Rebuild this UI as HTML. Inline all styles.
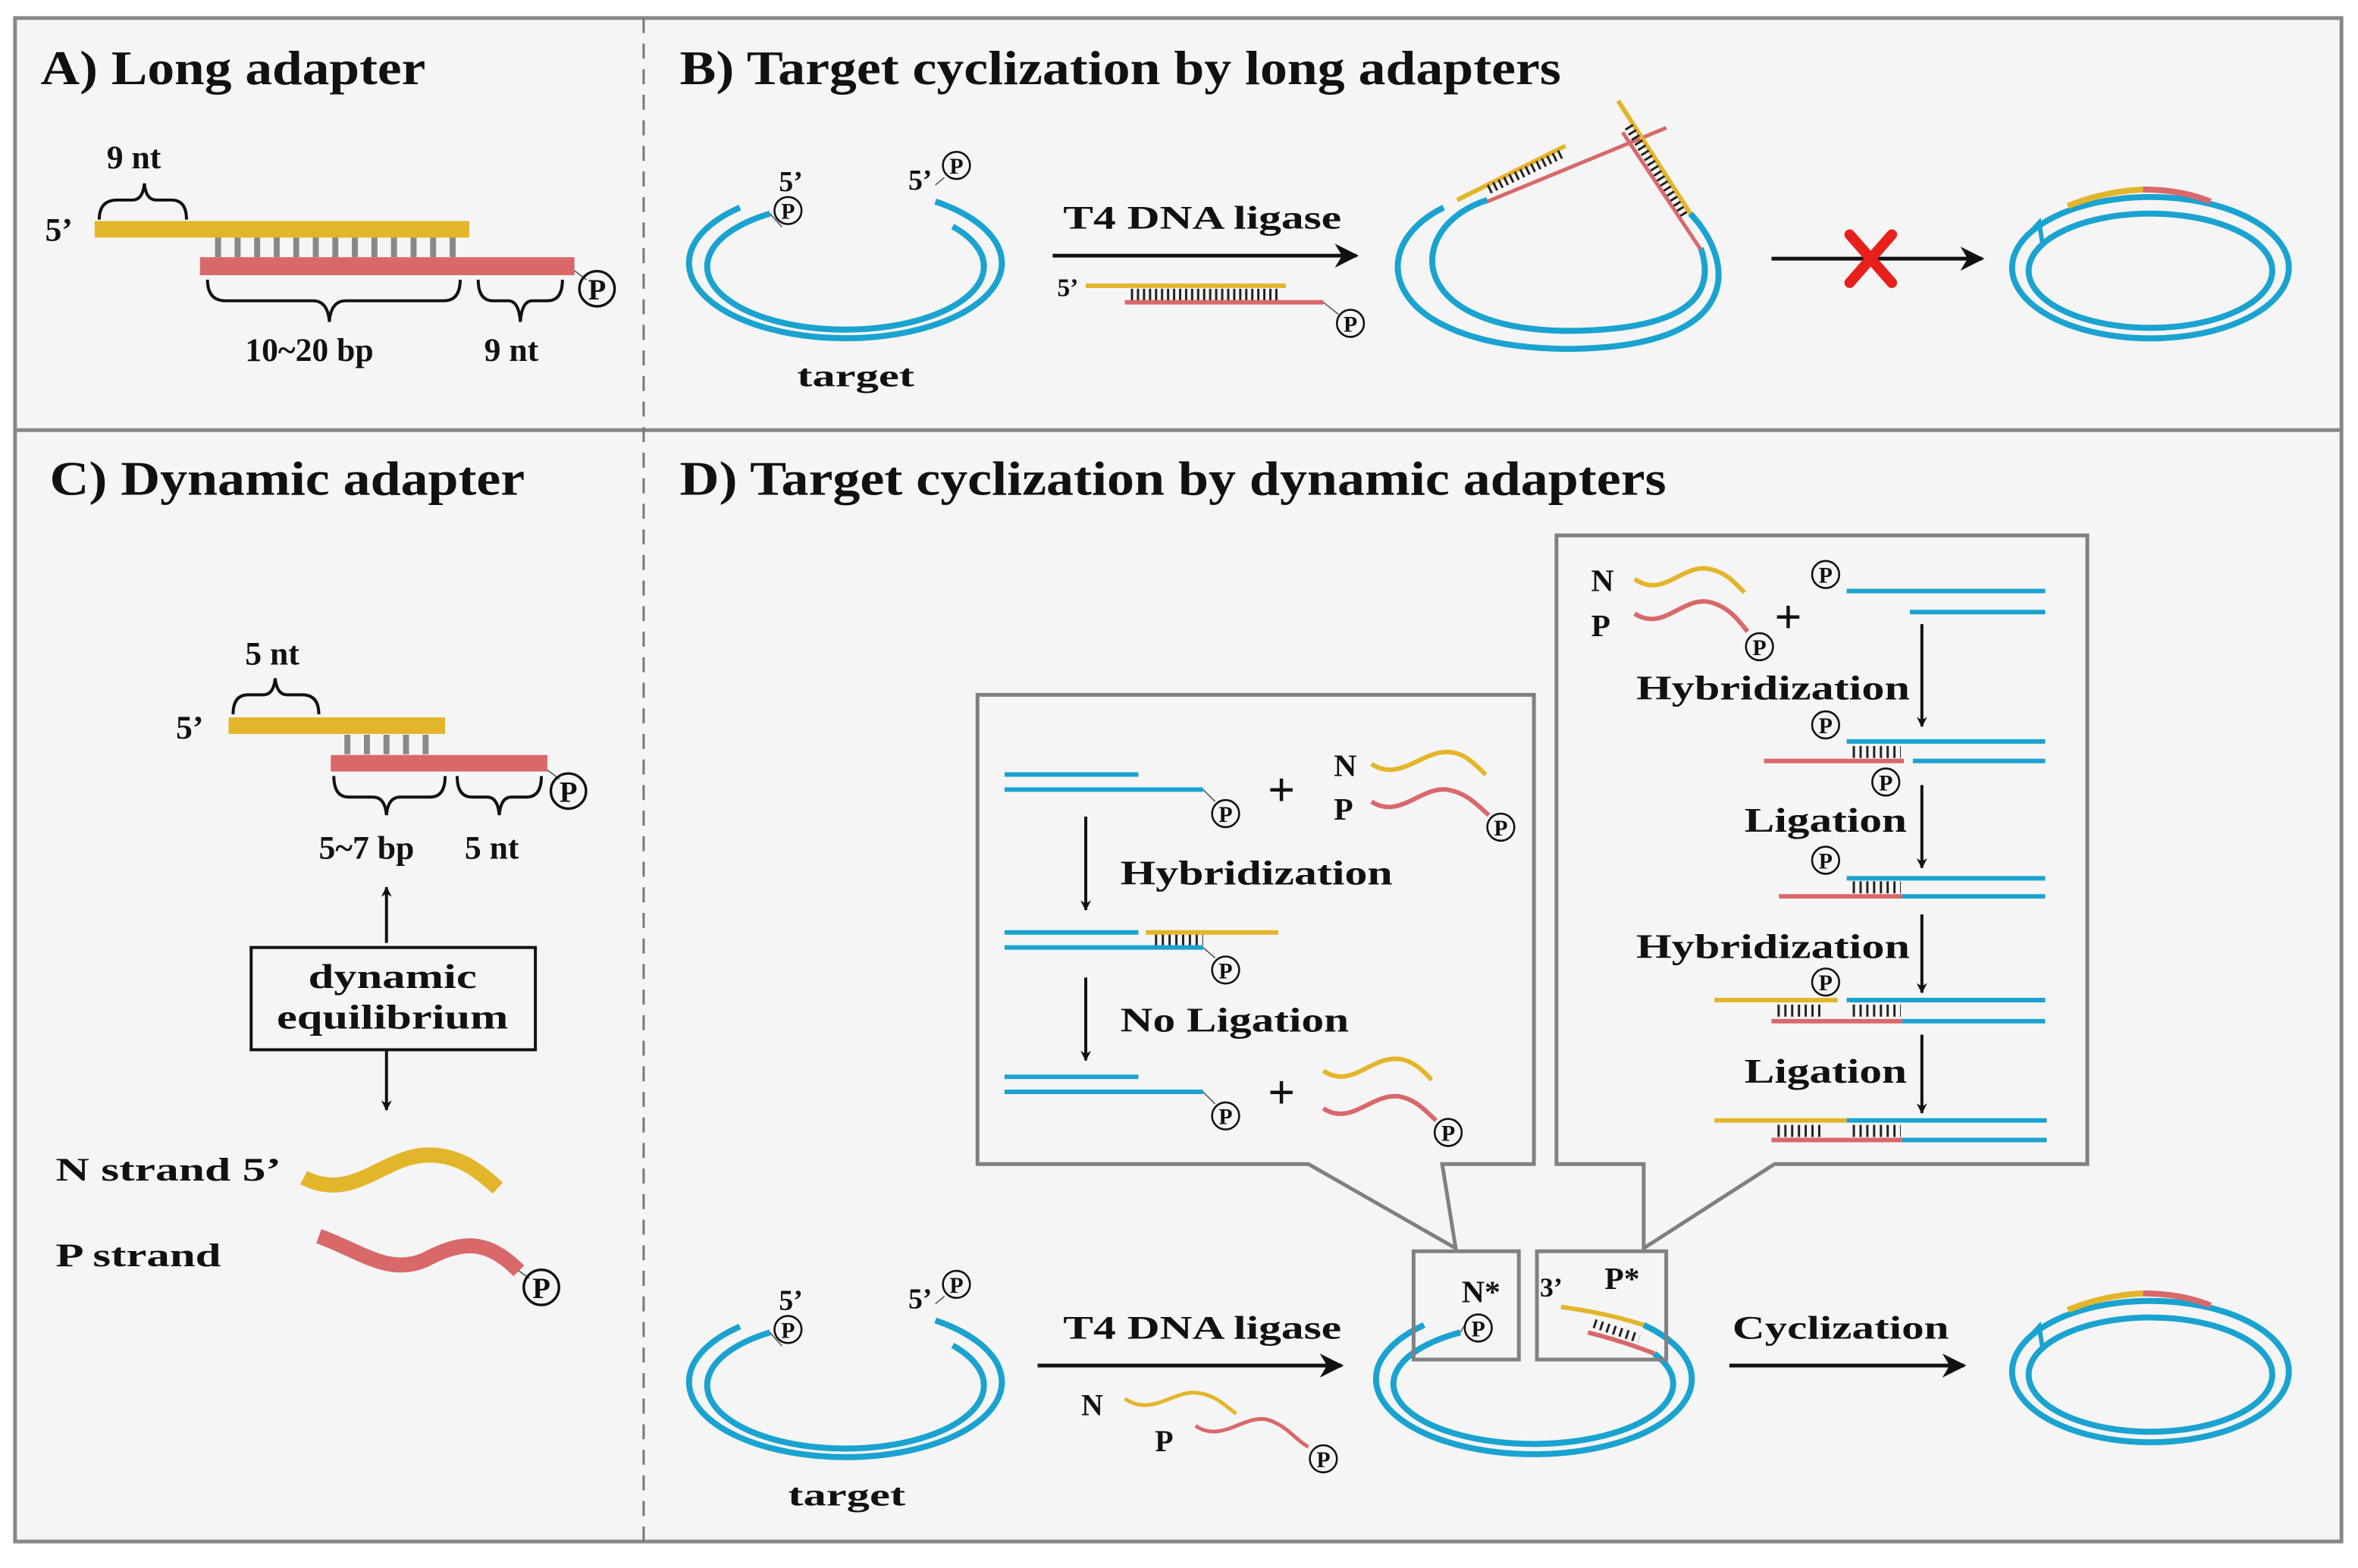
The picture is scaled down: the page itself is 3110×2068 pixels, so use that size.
<!DOCTYPE html>
<html><head><meta charset="utf-8"><style>
html,body{margin:0;padding:0;background:#fff}
svg{display:block}
text{font-family:"Liberation Serif",serif;font-weight:bold;fill:#111}
</style></head><body>
<svg width="3110" height="2068" viewBox="0 0 1568 1042.6" preserveAspectRatio="none" xmlns="http://www.w3.org/2000/svg">
<defs>
<marker id="ah" viewBox="0 0 10 10" refX="9" refY="5" markerWidth="7" markerHeight="7" markerUnits="userSpaceOnUse" orient="auto"><path d="M0,0 L10,5 L0,10 L3,5 z" fill="#111"/></marker>
<marker id="ahb" viewBox="0 0 10 10" refX="9" refY="5" markerWidth="16" markerHeight="16" markerUnits="userSpaceOnUse" orient="auto"><path d="M0,0 L10,5 L0,10 L3,5 z" fill="#111"/></marker>
<g id="pc"><circle cx="0" cy="0" r="9" fill="none" stroke="#111" stroke-width="1.3"/><text x="0" y="5.5" font-size="15" text-anchor="middle">P</text></g>
<g id="tgt">
<path d="M492,882 A104,50 0 1 0 622,878" fill="none" stroke="#1aa3d0" stroke-width="4"/>
<path d="M512,886 A92,42 0 1 0 633.5,894.6" fill="none" stroke="#1aa3d0" stroke-width="4"/>
<line x1="512" y1="886" x2="520" y2="895" stroke="#555" stroke-width="0.8"/>
<use href="#pc" x="524" y="884"/>
<text x="518" y="871" font-size="19">5’</text>
<text x="604" y="870" font-size="19">5’</text>
<line x1="622" y1="867" x2="628" y2="862" stroke="#555" stroke-width="0.8"/>
<use href="#pc" x="636" y="854"/>
</g>
<g id="ring">
<ellipse cx="1430" cy="912" rx="92" ry="47" fill="none" stroke="#1aa3d0" stroke-width="4"/>
<ellipse cx="1430" cy="914" rx="81" ry="38" fill="none" stroke="#1aa3d0" stroke-width="4"/>
<path d="M1346,893 L1356,882 L1358,895" fill="none" stroke="#1aa3d0" stroke-width="3"/>
<path d="M1375,871 Q1400,861 1425,860" fill="none" stroke="#e3b52a" stroke-width="4"/>
<path d="M1425,860 Q1450,860 1470,868" fill="none" stroke="#d9686a" stroke-width="4"/>
</g>
</defs>
<rect x="0" y="0" width="1568" height="1042.6" fill="#fff"/>
<rect x="10" y="12" width="1547" height="1013" fill="#f5f5f5" stroke="#888" stroke-width="2.5"/>
<line x1="10" y1="286" x2="1557" y2="286" stroke="#888" stroke-width="2.5"/>
<line x1="428" y1="12" x2="428" y2="1025" stroke="#777" stroke-width="1.5" stroke-dasharray="10,7"/>

<text x="27" y="56" font-size="32" textLength="256" lengthAdjust="spacingAndGlyphs">A) Long adapter</text>
<text x="452" y="56" font-size="32" textLength="586" lengthAdjust="spacingAndGlyphs">B) Target cyclization by long adapters</text>
<text x="33" y="329" font-size="32" textLength="316" lengthAdjust="spacingAndGlyphs">C) Dynamic adapter</text>
<text x="452" y="329" font-size="32" textLength="656" lengthAdjust="spacingAndGlyphs">D) Target cyclization by dynamic adapters</text>

<!-- Panel A -->
<text x="71" y="112" font-size="22">9 nt</text>
<path d="M66,146 Q66,133 78,133 L88,133 Q95,133 96,122 Q97,133 104,133 L114,133 Q124,133 124,146" fill="none" stroke="#111" stroke-width="2"/>
<text x="30" y="160" font-size="22">5’</text>
<rect x="63" y="147" width="249" height="11" fill="#e3b52a"/>
<line x1="143" y1="164.5" x2="310" y2="164.5" stroke="#888" stroke-width="13" stroke-dasharray="4,9"/>
<rect x="133" y="171" width="249" height="12" fill="#d9686a"/>
<line x1="382" y1="180" x2="390" y2="186" stroke="#555" stroke-width="0.8"/>
<g transform="translate(397,192) scale(1.3)"><use href="#pc"/></g>
<path d="M138,186 Q138,200 150,200 L208,200 Q218,200 219,214 Q220,200 230,200 L295,200 Q306,200 306,186" fill="none" stroke="#111" stroke-width="2"/>
<path d="M318,186 Q318,200 328,200 L338,200 Q345,200 346,214 Q347,200 354,200 L364,200 Q374,200 374,186" fill="none" stroke="#111" stroke-width="2"/>
<text x="163" y="240" font-size="22">10~20 bp</text>
<text x="322" y="240" font-size="22">9 nt</text>

<!-- Panel B -->
<g transform="translate(0,-744)"><use href="#tgt"/></g>
<text x="530" y="257" font-size="21" textLength="78" lengthAdjust="spacingAndGlyphs">target</text>
<line x1="700" y1="170" x2="902" y2="170" stroke="#111" stroke-width="2.5" marker-end="url(#ahb)"/>
<text x="707" y="152" font-size="22" textLength="185" lengthAdjust="spacingAndGlyphs">T4 DNA ligase</text>
<text x="703" y="197" font-size="17">5’</text>
<line x1="722" y1="190" x2="855" y2="190" stroke="#e3b52a" stroke-width="3"/>
<line x1="752" y1="196" x2="852" y2="196" stroke="#222" stroke-width="8" stroke-dasharray="1.5,2.5"/>
<line x1="748" y1="201" x2="880" y2="201" stroke="#d9686a" stroke-width="3"/>
<line x1="880" y1="201" x2="890" y2="209" stroke="#555" stroke-width="0.8"/>
<use href="#pc" x="898" y="215"/>
<path d="M960,138 C905,165 920,230 1040,232 C1160,232 1155,175 1124,142" fill="none" stroke="#1aa3d0" stroke-width="4"/>
<path d="M989,133 C935,150 932,218 1040,220 C1130,220 1140,192 1131,165" fill="none" stroke="#1aa3d0" stroke-width="4"/>
<line x1="969" y1="133" x2="1041" y2="97" stroke="#e3b52a" stroke-width="3"/>
<line x1="990" y1="126" x2="1039" y2="102" stroke="#222" stroke-width="6" stroke-dasharray="1.5,2.5"/>
<line x1="989" y1="134" x2="1108" y2="85" stroke="#d9686a" stroke-width="2.5"/>
<line x1="1076" y1="67" x2="1124" y2="142" stroke="#e3b52a" stroke-width="3"/>
<line x1="1083" y1="84" x2="1120" y2="144" stroke="#222" stroke-width="6" stroke-dasharray="1.5,2.5"/>
<line x1="1079" y1="88" x2="1131" y2="166" stroke="#d9686a" stroke-width="2.5"/>
<line x1="1178" y1="172" x2="1318" y2="172" stroke="#111" stroke-width="2.5" marker-end="url(#ahb)"/>
<path d="M1230,156 L1258,188 M1258,156 L1230,188" stroke="#e8201c" stroke-width="7" stroke-linecap="round"/>
<g transform="translate(0,-734)"><use href="#ring"/></g>

<!-- Panel C -->
<text x="163" y="442" font-size="22">5 nt</text>
<path d="M155,475 Q155,462 165,462 L175,462 Q182,462 183,451 Q184,462 191,462 L201,462 Q212,462 212,475" fill="none" stroke="#111" stroke-width="2"/>
<text x="117" y="491" font-size="22">5’</text>
<rect x="152" y="477" width="144" height="11" fill="#e3b52a"/>
<line x1="229" y1="495" x2="292" y2="495" stroke="#888" stroke-width="13" stroke-dasharray="4,9"/>
<rect x="220" y="502" width="144" height="11" fill="#d9686a"/>
<line x1="364" y1="512" x2="372" y2="518" stroke="#555" stroke-width="0.8"/>
<g transform="translate(378,526) scale(1.3)"><use href="#pc"/></g>
<path d="M222,516 Q222,530 232,530 L248,530 Q256,530 257,542 Q258,530 266,530 L286,530 Q296,530 296,516" fill="none" stroke="#111" stroke-width="2"/>
<path d="M304,516 Q304,530 314,530 L324,530 Q331,530 332,542 Q333,530 340,530 L350,530 Q360,530 360,516" fill="none" stroke="#111" stroke-width="2"/>
<text x="212" y="571" font-size="22">5~7 bp</text>
<text x="309" y="571" font-size="22">5 nt</text>
<line x1="257" y1="627" x2="257" y2="590" stroke="#111" stroke-width="2" marker-end="url(#ah)"/>
<rect x="167" y="630" width="189" height="68" fill="none" stroke="#111" stroke-width="2"/>
<text x="261" y="657" font-size="23" text-anchor="middle" textLength="112" lengthAdjust="spacingAndGlyphs">dynamic</text>
<text x="261" y="684" font-size="23" text-anchor="middle" textLength="154" lengthAdjust="spacingAndGlyphs">equilibrium</text>
<line x1="257" y1="698" x2="257" y2="738" stroke="#111" stroke-width="2" marker-end="url(#ah)"/>
<text x="37" y="785" font-size="22" textLength="150" lengthAdjust="spacingAndGlyphs">N strand 5’</text>
<path d="M202,783 C235,800 255,768 285,768 C305,768 318,778 331,790" fill="none" stroke="#e3b52a" stroke-width="10"/>
<text x="37" y="842" font-size="22" textLength="110" lengthAdjust="spacingAndGlyphs">P strand</text>
<path d="M212,822 C240,832 258,848 282,838 C305,826 322,822 345,845" fill="none" stroke="#d9686a" stroke-width="10"/>
<line x1="345" y1="845" x2="352" y2="850" stroke="#555" stroke-width="0.8"/>
<g transform="translate(360,856) scale(1.3)"><use href="#pc"/></g>

<!-- Panel D bottom row -->
<use href="#tgt"/>
<text x="524" y="1001" font-size="21" textLength="78" lengthAdjust="spacingAndGlyphs">target</text>
<line x1="690" y1="908" x2="892" y2="908" stroke="#111" stroke-width="2.5" marker-end="url(#ahb)"/>
<text x="707" y="890" font-size="22" textLength="185" lengthAdjust="spacingAndGlyphs">T4 DNA ligase</text>
<text x="719" y="941" font-size="20">N</text>
<path d="M748,930 C765,942 780,925 795,926 C808,927 815,935 822,940" fill="none" stroke="#e3b52a" stroke-width="2.5"/>
<text x="768" y="965" font-size="20">P</text>
<path d="M795,948 C812,960 828,940 843,944 C856,948 862,958 870,962" fill="none" stroke="#d9686a" stroke-width="2.5"/>
<use href="#pc" x="880" y="970"/>
<path d="M947,881 A105,50 0 1 0 1093,881" fill="none" stroke="#1aa3d0" stroke-width="4"/>
<path d="M971,886 A93,40 0 1 0 1100,900" fill="none" stroke="#1aa3d0" stroke-width="4"/>
<path d="M1038,869 Q1068,873 1093,881" fill="none" stroke="#e3b52a" stroke-width="3"/>
<line x1="1060" y1="880" x2="1090" y2="890" stroke="#222" stroke-width="6" stroke-dasharray="1.5,3"/>
<path d="M1056,886 Q1080,892 1100,900" fill="none" stroke="#d9686a" stroke-width="3"/>
<line x1="971" y1="886" x2="977" y2="876" stroke="#555" stroke-width="0.8"/>
<use href="#pc" x="983" y="883"/>
<text x="972" y="866" font-size="21">N*</text>
<text x="1024" y="862" font-size="18">3’</text>
<text x="1067" y="857" font-size="21">P*</text>
<rect x="940" y="832" width="70" height="72" fill="none" stroke="#808080" stroke-width="2.5"/>
<rect x="1022" y="832" width="86" height="72" fill="none" stroke="#808080" stroke-width="2.5"/>
<line x1="1150" y1="908" x2="1306" y2="908" stroke="#111" stroke-width="2.5" marker-end="url(#ahb)"/>
<text x="1152" y="890" font-size="22" textLength="144" lengthAdjust="spacingAndGlyphs">Cyclization</text>
<use href="#ring"/>

<!-- Box 1 -->
<path d="M870,774 L650,774 L650,462 L1020,462 L1020,774 L959,774 L968,830 L870,774 Z" fill="#f5f5f5" stroke="#808080" stroke-width="2.5"/>
<g stroke-width="3" fill="none">
<line x1="668" y1="515" x2="757" y2="515" stroke="#1aa3d0"/>
<line x1="668" y1="525" x2="800" y2="525" stroke="#1aa3d0"/>
<line x1="800" y1="525" x2="808" y2="533" stroke="#555" stroke-width="0.8"/>
<path d="M912,508 C930,520 945,500 962,500 C975,500 982,510 988,515" stroke="#e3b52a"/>
<path d="M912,533 C930,545 945,523 962,525 C975,527 982,535 990,542" stroke="#d9686a"/>
<line x1="668" y1="620" x2="757" y2="620" stroke="#1aa3d0"/>
<line x1="762" y1="620" x2="850" y2="620" stroke="#e3b52a"/>
<line x1="668" y1="630" x2="800" y2="630" stroke="#1aa3d0"/>
<line x1="768" y1="625" x2="800" y2="625" stroke="#222" stroke-width="7" stroke-dasharray="1.5,3"/>
<line x1="800" y1="630" x2="808" y2="637" stroke="#555" stroke-width="0.8"/>
<line x1="668" y1="716" x2="757" y2="716" stroke="#1aa3d0"/>
<line x1="668" y1="726" x2="800" y2="726" stroke="#1aa3d0"/>
<line x1="800" y1="726" x2="808" y2="734" stroke="#555" stroke-width="0.8"/>
<path d="M880,712 C898,724 910,704 928,704 C940,704 948,714 952,718" stroke="#e3b52a"/>
<path d="M880,737 C898,749 912,727 930,729 C942,731 948,739 955,745" stroke="#d9686a"/>
</g>
<use href="#pc" x="815" y="541"/>
<use href="#pc" x="998" y="550"/>
<use href="#pc" x="815" y="645"/>
<use href="#pc" x="815" y="742"/>
<use href="#pc" x="963" y="753"/>
<text x="843" y="536" font-size="32" font-weight="normal">+</text>
<text x="843" y="737" font-size="32" font-weight="normal">+</text>
<text x="887" y="516" font-size="21">N</text>
<text x="887" y="545" font-size="21">P</text>
<line x1="722" y1="543" x2="722" y2="605" stroke="#111" stroke-width="2" marker-end="url(#ah)"/>
<text x="745" y="588" font-size="23" textLength="181" lengthAdjust="spacingAndGlyphs">Hybridization</text>
<line x1="722" y1="650" x2="722" y2="705" stroke="#111" stroke-width="2" marker-end="url(#ah)"/>
<text x="745" y="686" font-size="23" textLength="152" lengthAdjust="spacingAndGlyphs">No Ligation</text>

<!-- Box 2 -->
<path d="M1093,774 L1035,774 L1035,356 L1388,356 L1388,774 L1180,774 L1093,830 Z" fill="#f5f5f5" stroke="#808080" stroke-width="2.5"/>
<g stroke-width="3" fill="none">
<path d="M1087,385 C1105,398 1118,376 1135,378 C1148,380 1154,388 1160,394" stroke="#e3b52a"/>
<path d="M1087,408 C1105,420 1118,398 1135,400 C1148,402 1156,412 1162,420" stroke="#d9686a"/>
<line x1="1228" y1="393" x2="1360" y2="393" stroke="#1aa3d0"/>
<line x1="1270" y1="407" x2="1360" y2="407" stroke="#1aa3d0"/>
<line x1="1228" y1="493" x2="1360" y2="493" stroke="#1aa3d0"/>
<line x1="1232" y1="500" x2="1264" y2="500" stroke="#222" stroke-width="8" stroke-dasharray="1.5,3"/>
<line x1="1173" y1="506" x2="1266" y2="506" stroke="#d9686a"/>
<line x1="1272" y1="506" x2="1360" y2="506" stroke="#1aa3d0"/>
<line x1="1228" y1="584" x2="1360" y2="584" stroke="#1aa3d0"/>
<line x1="1232" y1="590" x2="1264" y2="590" stroke="#222" stroke-width="8" stroke-dasharray="1.5,3"/>
<line x1="1183" y1="596" x2="1265" y2="596" stroke="#d9686a"/>
<line x1="1265" y1="596" x2="1360" y2="596" stroke="#1aa3d0"/>
<line x1="1140" y1="665" x2="1222" y2="665" stroke="#e3b52a"/>
<line x1="1228" y1="665" x2="1360" y2="665" stroke="#1aa3d0"/>
<line x1="1182" y1="672" x2="1212" y2="672" stroke="#222" stroke-width="8" stroke-dasharray="1.5,3"/>
<line x1="1232" y1="672" x2="1264" y2="672" stroke="#222" stroke-width="8" stroke-dasharray="1.5,3"/>
<line x1="1178" y1="679" x2="1265" y2="679" stroke="#d9686a"/>
<line x1="1265" y1="679" x2="1360" y2="679" stroke="#1aa3d0"/>
<line x1="1140" y1="745" x2="1228" y2="745" stroke="#e3b52a"/>
<line x1="1228" y1="745" x2="1361" y2="745" stroke="#1aa3d0"/>
<line x1="1182" y1="752" x2="1212" y2="752" stroke="#222" stroke-width="8" stroke-dasharray="1.5,3"/>
<line x1="1232" y1="752" x2="1264" y2="752" stroke="#222" stroke-width="8" stroke-dasharray="1.5,3"/>
<line x1="1178" y1="758" x2="1265" y2="758" stroke="#d9686a"/>
<line x1="1265" y1="758" x2="1361" y2="758" stroke="#1aa3d0"/>
</g>
<use href="#pc" x="1170" y="430"/>
<use href="#pc" x="1214" y="382"/>
<use href="#pc" x="1214" y="482"/>
<use href="#pc" x="1254" y="520"/>
<use href="#pc" x="1214" y="572"/>
<use href="#pc" x="1214" y="653"/>
<text x="1180" y="421" font-size="32" font-weight="normal">+</text>
<text x="1058" y="393" font-size="21">N</text>
<text x="1058" y="423" font-size="21">P</text>
<line x1="1278" y1="415" x2="1278" y2="483" stroke="#111" stroke-width="2" marker-end="url(#ah)"/>
<text x="1088" y="465" font-size="23" textLength="182" lengthAdjust="spacingAndGlyphs">Hybridization</text>
<line x1="1278" y1="522" x2="1278" y2="577" stroke="#111" stroke-width="2" marker-end="url(#ah)"/>
<text x="1160" y="553" font-size="23" textLength="108" lengthAdjust="spacingAndGlyphs">Ligation</text>
<line x1="1278" y1="608" x2="1278" y2="660" stroke="#111" stroke-width="2" marker-end="url(#ah)"/>
<text x="1088" y="637" font-size="23" textLength="182" lengthAdjust="spacingAndGlyphs">Hybridization</text>
<line x1="1278" y1="688" x2="1278" y2="740" stroke="#111" stroke-width="2" marker-end="url(#ah)"/>
<text x="1160" y="720" font-size="23" textLength="108" lengthAdjust="spacingAndGlyphs">Ligation</text>
</svg>
</body></html>
